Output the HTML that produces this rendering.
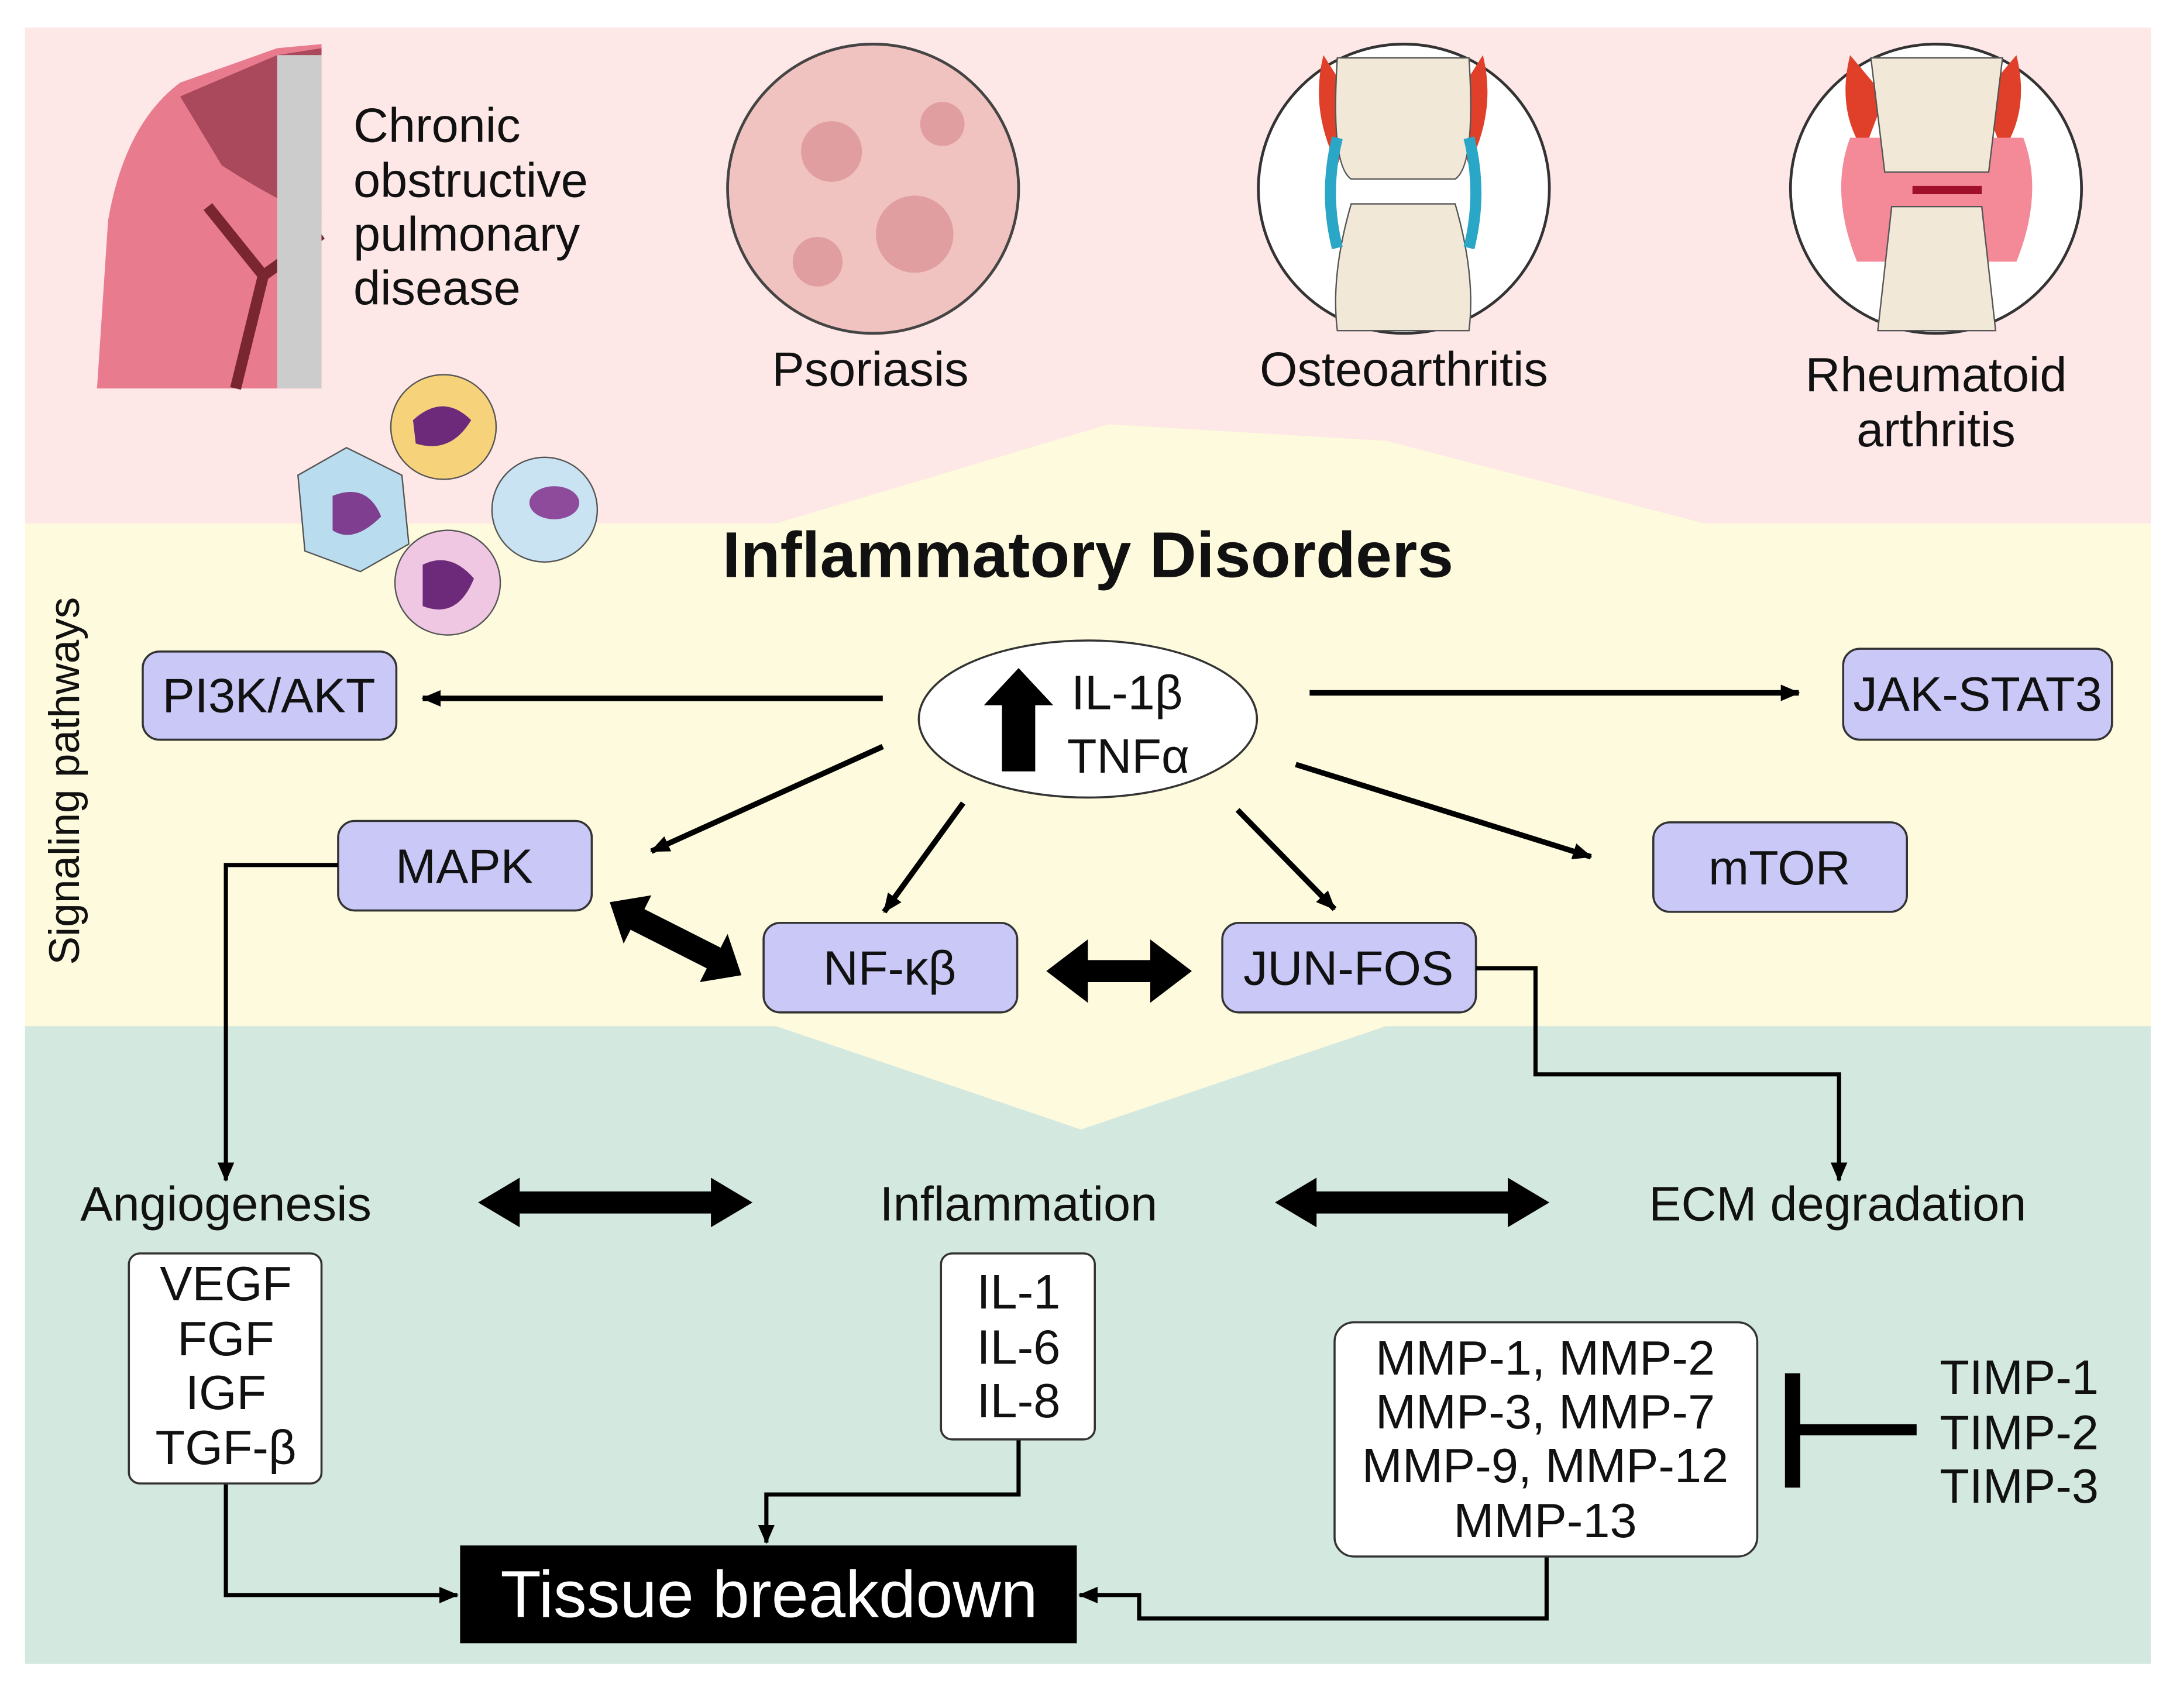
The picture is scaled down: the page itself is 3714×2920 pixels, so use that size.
<!DOCTYPE html>
<html><head><meta charset="utf-8">
<style>
html,body{margin:0;padding:0;background:#fff;}
svg{display:block;}
text{font-family:"Liberation Sans",Arial,sans-serif;fill:#111;}
</style></head>
<body>
<svg width="3714" height="2920" viewBox="0 0 1568 1240" preserveAspectRatio="none" xmlns="http://www.w3.org/2000/svg">
<defs>
<marker id="ah" markerWidth="14" markerHeight="14" refX="13" refY="7" orient="auto" markerUnits="userSpaceOnUse">
<path d="M0,1 L14,7 L0,13 Z" fill="#000"/></marker>
</defs>
<rect width="1568" height="1240" fill="#fff"/>
<rect x="18" y="20" width="1534" height="362" fill="#fde7e7"/>
<polygon points="18,380 560,380 800,308 1000,320 1230,380 1552,380 1552,745 1000,745 780,820 560,745 18,745" fill="#fdfadd"/>
<polygon points="18,745 560,745 780,820 1000,745 1552,745 1552,1208 18,1208" fill="#d3e8df"/>

<!-- lung -->
<path d="M70,282 L78,160 Q90,90 130,60 L200,35 L232,32 L232,282 Z" fill="#e97b8f"/>
<path d="M130,70 L200,40 L232,35 L232,160 Q190,140 160,120 Z" fill="#a9495b"/>
<path d="M150,150 L190,200 L170,282 M190,200 L232,170" stroke="#7a2630" stroke-width="8" fill="none"/>
<rect x="200" y="40" width="32" height="242" fill="#ccc"/>
<!-- psoriasis -->
<circle cx="630" cy="137" r="105" fill="#f0c2c0" stroke="#444" stroke-width="2"/>
<circle cx="600" cy="110" r="22" fill="#e19ea0"/><circle cx="660" cy="170" r="28" fill="#e19ea0"/><circle cx="590" cy="190" r="18" fill="#e19ea0"/><circle cx="680" cy="90" r="16" fill="#e19ea0"/>
<!-- OA -->
<circle cx="1013" cy="137" r="105" fill="#fff" stroke="#333" stroke-width="2"/>
<path d="M955,40 Q945,80 965,120 L980,80 Z M1070,40 Q1080,80 1060,120 L1045,80 Z" fill="#e0402a"/>
<path d="M965,42 Q960,120 975,130 L1050,130 Q1065,120 1060,42 Z" fill="#f2e8d8" stroke="#555"/>
<path d="M975,148 Q960,200 965,240 L1060,240 Q1065,200 1050,148 Z" fill="#f2e8d8" stroke="#555"/>
<path d="M965,100 Q955,140 965,180 M1060,100 Q1070,140 1060,180" stroke="#2aa6c6" stroke-width="8" fill="none"/>
<!-- RA -->
<circle cx="1397" cy="137" r="105" fill="#fff" stroke="#333" stroke-width="2"/>
<path d="M1335,40 Q1325,80 1345,110 L1360,70 Z M1455,40 Q1465,80 1445,110 L1430,70 Z" fill="#e0402a"/>
<path d="M1335,100 Q1320,140 1340,190 L1455,190 Q1475,140 1460,100 Z" fill="#f48a98"/>
<path d="M1350,42 L1445,42 L1435,125 L1360,125 Z" fill="#f2e8d8" stroke="#555"/>
<path d="M1365,150 L1430,150 L1440,240 L1355,240 Z" fill="#f2e8d8" stroke="#555"/>
<path d="M1380,138 L1430,138" stroke="#a0102a" stroke-width="6"/>
<!-- cells -->
<path d="M215,345 L250,325 L290,345 L295,395 L260,415 L220,400 Z" fill="#b9dcee" stroke="#555"/>
<path d="M240,360 Q265,350 275,375 Q255,395 240,385 Z" fill="#7f3e8f"/>
<circle cx="320" cy="310" r="38" fill="#f6d27a" stroke="#555"/>
<path d="M298,305 Q320,285 340,305 Q325,330 300,322 Z" fill="#6d2a7a"/>
<circle cx="393" cy="370" r="38" fill="#c9e3f2" stroke="#555"/>
<ellipse cx="400" cy="365" rx="18" ry="12" fill="#8e4b9c"/>
<circle cx="323" cy="423" r="38" fill="#f0c7e2" stroke="#555"/>
<path d="M305,410 Q325,400 342,420 Q330,450 305,440 Z" fill="#6d2a7a"/>

<g font-size="35">
<text x="255" y="103">Chronic</text><text x="255" y="143">obstructive</text><text x="255" y="182">pulmonary</text><text x="255" y="221">disease</text>
<text x="628" y="280" text-anchor="middle">Psoriasis</text>
<text x="1013" y="280" text-anchor="middle">Osteoarthritis</text>
<text x="1397" y="284" text-anchor="middle">Rheumatoid</text><text x="1397" y="324" text-anchor="middle">arthritis</text>
</g>
<text x="785" y="419" font-size="47" font-weight="bold" text-anchor="middle">Inflammatory Disorders</text>
<text transform="translate(57,567) rotate(-90)" font-size="31" text-anchor="middle">Signaling pathways</text>

<g fill="#c9c8f7" stroke="#333" stroke-width="1.5">
<rect x="103" y="473" width="183" height="64" rx="12"/>
<rect x="1330" y="471" width="194" height="66" rx="12"/>
<rect x="244" y="596" width="183" height="65" rx="12"/>
<rect x="1193" y="597" width="183" height="65" rx="12"/>
<rect x="551" y="670" width="183" height="65" rx="12"/>
<rect x="882" y="670" width="183" height="65" rx="12"/>
</g>
<g font-size="35" text-anchor="middle">
<text x="194" y="517">PI3K/AKT</text>
<text x="1427" y="516">JAK-STAT3</text>
<text x="335" y="641">MAPK</text>
<text x="1284" y="642">mTOR</text>
<text x="642" y="715">NF-κβ</text>
<text x="973" y="715">JUN-FOS</text>
</g>
<ellipse cx="785" cy="522" rx="122" ry="57" fill="#fff" stroke="#333" stroke-width="1.5"/>
<polygon points="735,485 760,512 747,512 747,560 723,560 723,512 710,512" fill="#000"/>
<g font-size="35" fill="#333"><text x="773" y="515">IL-1β</text><text x="770" y="561">TNFα</text></g>

<g stroke="#000" stroke-width="4" fill="none" marker-end="url(#ah)">
<line x1="637" y1="507" x2="305" y2="507"/>
<line x1="945" y1="503" x2="1298" y2="503"/>
<line x1="637" y1="542" x2="470" y2="618"/>
<line x1="695" y1="583" x2="638" y2="662"/>
<line x1="893" y1="588" x2="963" y2="660"/>
<line x1="935" y1="555" x2="1148" y2="622"/>
</g>
<g stroke="#000" stroke-width="3" fill="none">
<polyline points="244,628 163,628 163,857" marker-end="url(#ah)"/>
<polyline points="1065,703 1108,703 1108,780 1327,780 1327,857" marker-end="url(#ah)"/>
<polyline points="163,1077 163,1158 330,1158" marker-end="url(#ah)"/>
<polyline points="735,1045 735,1085 553,1085 553,1120" marker-end="url(#ah)"/>
<polyline points="1116,1130 1116,1175 822,1175 822,1158 779,1158" marker-end="url(#ah)"/>
</g>
<g fill="#000">
<polygon points="440,655 470,650 465,660 520,688 525,678 535,708 505,713 510,703 455,675 450,685"/>
<polygon points="755,705 785,682 785,697 830,697 830,682 860,705 830,728 830,713 785,713 785,728"/>
<polygon points="345,873 375,855 375,865 513,865 513,855 543,873 513,891 513,881 375,881 375,891"/>
<polygon points="920,873 950,855 950,865 1088,865 1088,855 1118,873 1088,891 1088,881 950,881 950,891"/>
</g>

<g font-size="35" text-anchor="middle">
<text x="163" y="886">Angiogenesis</text>
<text x="735" y="886">Inflammation</text>
<text x="1326" y="886">ECM degradation</text>
</g>
<g fill="#fff" stroke="#333" stroke-width="1.5">
<rect x="93" y="910" width="139" height="167" rx="8"/>
<rect x="679" y="910" width="111" height="135" rx="8"/>
<rect x="963" y="960" width="305" height="170" rx="14"/>
</g>
<g font-size="35" text-anchor="middle">
<text x="163" y="944">VEGF</text><text x="163" y="984">FGF</text><text x="163" y="1023">IGF</text><text x="163" y="1063" fill="#333">TGF-β</text>
<text x="735" y="950">IL-1</text><text x="735" y="990">IL-6</text><text x="735" y="1029">IL-8</text>
<text x="1115" y="998">MMP-1, MMP-2</text><text x="1115" y="1037">MMP-3, MMP-7</text><text x="1115" y="1076">MMP-9, MMP-12</text><text x="1115" y="1116">MMP-13</text>
<text x="1457" y="1012">TIMP-1</text><text x="1457" y="1052">TIMP-2</text><text x="1457" y="1091">TIMP-3</text>
</g>
<rect x="1288" y="997" width="11" height="83" fill="#000"/>
<rect x="1293" y="1034" width="90" height="8" fill="#000"/>
<rect x="332" y="1122" width="445" height="71" fill="#000"/>
<text x="555" y="1174" font-size="48" text-anchor="middle" style="fill:#fff">Tissue breakdown</text>
</svg>
</body></html>
